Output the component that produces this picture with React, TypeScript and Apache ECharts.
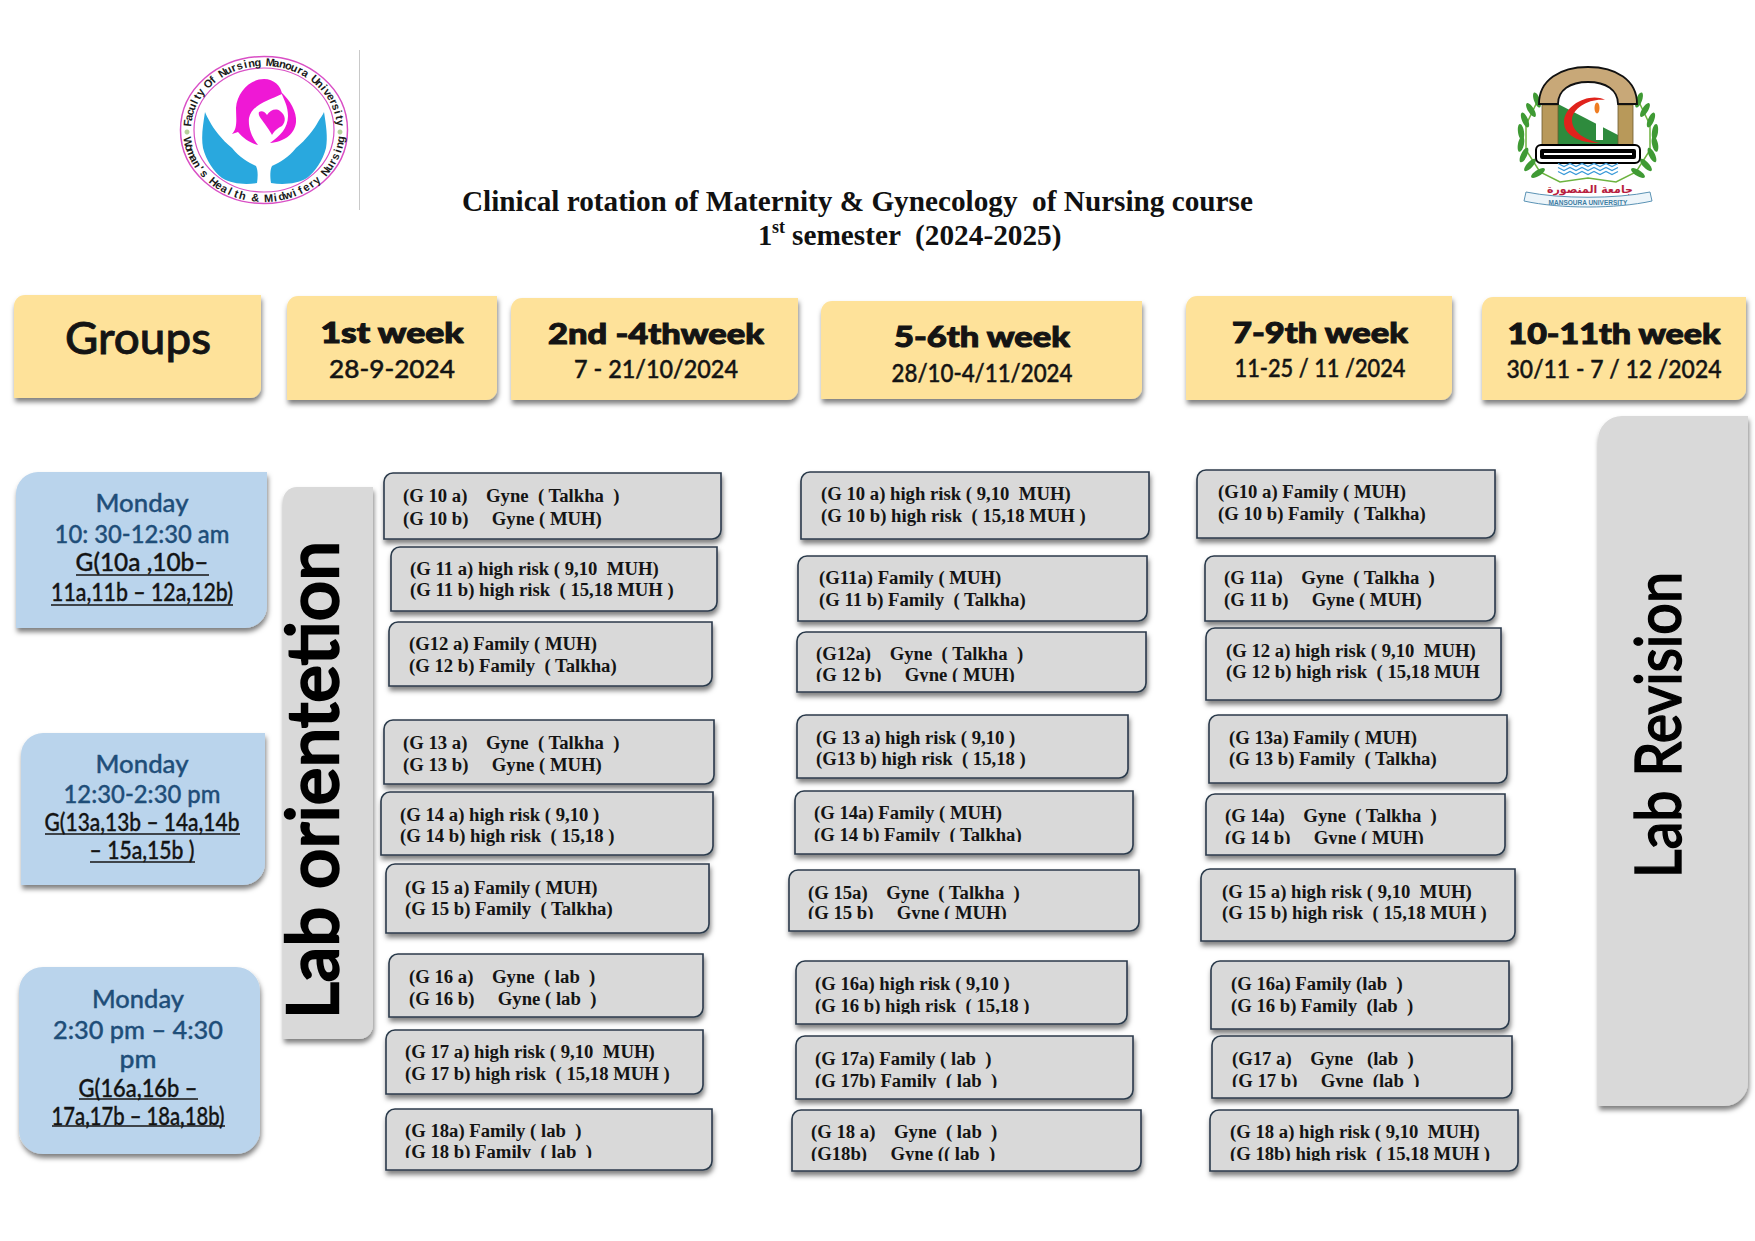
import React, { useEffect, useRef } from "react";
import * as echarts from "echarts";

const titleLine = "Clinical rotation of Maternity & Gynecology  of Nursing course";
const semesterLine = "semester  (2024-2025)";
const groupsHead = "Groups";
const weekTitles = ["1st week", "2nd -4thweek", "5-6th week", "7-9th week", "10-11th week"];
const weekDates = ["28-9-2024", "7 - 21/10/2024", "28/10-4/11/2024", "11-25 / 11 /2024", "30/11 - 7 / 12 /2024"];
const slotA = ["Monday", "10: 30-12:30 am", "G(10a ,10b–", "11a,11b – 12a,12b)"];
const slotB = ["Monday", "12:30-2:30 pm", "G(13a,13b – 14a,14b", "– 15a,15b )"];
const slotC = ["Monday", "2:30 pm – 4:30", "pm", "G(16a,16b –", "17a,17b – 18a,18b)"];
const sideLeft = "Lab orientetion";
const sideRight = "Lab Revision";
const logoTop = "Faculty Of Nursing Manoura University";
const logoBottom = "Woman's Health & Midwifery Nursing";

const col1 = [
  ["(G 10 a)    Gyne  ( Talkha  )", "(G 10 b)     Gyne ( MUH)"],
  ["(G 11 a) high risk ( 9,10  MUH)", "(G 11 b) high risk  ( 15,18 MUH )"],
  ["(G12 a) Family ( MUH)", "(G 12 b) Family  ( Talkha)"],
  ["(G 13 a)    Gyne  ( Talkha  )", "(G 13 b)     Gyne ( MUH)"],
  ["(G 14 a) high risk ( 9,10 )", "(G 14 b) high risk  ( 15,18 )"],
  ["(G 15 a) Family ( MUH)", "(G 15 b) Family  ( Talkha)"],
  ["(G 16 a)    Gyne  ( lab  )", "(G 16 b)     Gyne ( lab  )"],
  ["(G 17 a) high risk ( 9,10  MUH)", "(G 17 b) high risk  ( 15,18 MUH )"],
  ["(G 18a) Family ( lab  )", "(G 18 b) Family  ( lab  )"],
];
const col2 = [
  ["(G 10 a) high risk ( 9,10  MUH)", "(G 10 b) high risk  ( 15,18 MUH )"],
  ["(G11a) Family ( MUH)", "(G 11 b) Family  ( Talkha)"],
  ["(G12a)    Gyne  ( Talkha  )", "(G 12 b)     Gyne ( MUH)"],
  ["(G 13 a) high risk ( 9,10 )", "(G13 b) high risk  ( 15,18 )"],
  ["(G 14a) Family ( MUH)", "(G 14 b) Family  ( Talkha)"],
  ["(G 15a)    Gyne  ( Talkha  )", "(G 15 b)     Gyne ( MUH)"],
  ["(G 16a) high risk ( 9,10 )", "(G 16 b) high risk  ( 15,18 )"],
  ["(G 17a) Family ( lab  )", "(G 17b) Family  ( lab  )"],
  ["(G 18 a)    Gyne  ( lab  )", "(G18b)     Gyne (( lab  )"],
];
const col3 = [
  ["(G10 a) Family ( MUH)", "(G 10 b) Family  ( Talkha)"],
  ["(G 11a)    Gyne  ( Talkha  )", "(G 11 b)     Gyne ( MUH)"],
  ["(G 12 a) high risk ( 9,10  MUH)", "(G 12 b) high risk  ( 15,18 MUH"],
  ["(G 13a) Family ( MUH)", "(G 13 b) Family  ( Talkha)"],
  ["(G 14a)    Gyne  ( Talkha  )", "(G 14 b)     Gyne ( MUH)"],
  ["(G 15 a) high risk ( 9,10  MUH)", "(G 15 b) high risk  ( 15,18 MUH )"],
  ["(G 16a) Family (lab  )", "(G 16 b) Family  (lab  )"],
  ["(G17 a)    Gyne   (lab  )", "(G 17 b)     Gyne  (lab  )"],
  ["(G 18 a) high risk ( 9,10  MUH)", "(G 18b) high risk  ( 15,18 MUH )"],
];

// layout: [x0, y0, x1, y1, textX, line1Y, line2Y, clipY]
const col1Boxes = [
  [384, 473, 721, 539, 403, 495, 518, 0], [391, 547, 717, 611, 410, 568, 589, 0], [389, 622, 712, 686, 409, 643, 665, 0],
  [384, 720, 714, 784, 403, 742, 764, 0], [381, 792, 713, 855, 400, 814, 835, 0], [386, 864, 709, 933, 405, 887, 908, 0],
  [389, 954, 703, 1017, 409, 976, 998, 0], [386, 1030, 703, 1094, 405, 1051, 1073, 0], [386, 1109, 712, 1170, 405, 1130, 1151, 1158],
];
const col2Boxes = [
  [801, 472, 1149, 539, 821, 493, 515, 0], [798, 556, 1147, 621, 819, 577, 599, 0], [797, 632, 1146, 692, 816, 653, 674, 682],
  [797, 715, 1128, 778, 816, 737, 758, 0], [795, 791, 1133, 854, 814, 812, 834, 842], [789, 870, 1139, 931, 808, 892, 912, 919],
  [796, 961, 1127, 1024, 815, 983, 1005, 1014], [796, 1036, 1133, 1099, 815, 1058, 1080, 1088], [792, 1110, 1141, 1171, 811, 1131, 1153, 1161],
];
const col3Boxes = [
  [1197, 470, 1495, 538, 1218, 491, 513, 0], [1205, 556, 1495, 621, 1224, 577, 599, 0], [1206, 628, 1501, 700, 1226, 650, 671, 0],
  [1209, 715, 1507, 783, 1229, 737, 758, 0], [1206, 794, 1505, 855, 1225, 815, 837, 844], [1201, 869, 1515, 941, 1222, 891, 912, 0],
  [1211, 961, 1509, 1029, 1231, 983, 1005, 0], [1212, 1036, 1512, 1098, 1232, 1058, 1080, 1087], [1210, 1110, 1518, 1171, 1230, 1131, 1153, 1161],
];
const headBoxes = [
  [287, 296, 497, 400, 392, 332, 144, 368, 126], [511, 298, 798, 400, 656, 333, 216, 369, 164],
  [821, 301, 1142, 399, 982, 336, 177, 373, 181], [1186, 296, 1452, 400, 1320, 332, 177, 368, 171],
  [1482, 297, 1746, 400, 1614, 333, 214, 369, 215],
];

echarts.graphic.registerShape("hairL", echarts.graphic.extendPath("M264,79 C274,79 281,86 282,94 C270,100 252,104 249,118 C248,128 252,138 258,145 C250,143 243,138 238,132 L232,134 C238,128 236,118 236,108 C237,92 250,79 264,79 Z", {}));
echarts.graphic.registerShape("armR", echarts.graphic.extendPath("M281,92 C290,100 297,112 296,122 C295,134 284,142 270,143 C280,136 288,128 288,116 C288,106 284,100 281,92 Z", {}));
echarts.graphic.registerShape("baby", echarts.graphic.extendPath("M259,112 C262,110 265,112 267,115 C270,110 276,108 280,111 C286,115 286,122 282,126 C278,128 275,130 272,135 C270,131 265,124 262,120 C260,117 258,115 259,112 Z", {}));
echarts.graphic.registerShape("handL", echarts.graphic.extendPath("M205,112 C203,125 201,137 203,148 C206,160 214,172 222,178 C232,184 246,185 257,183 C258,176 258,170 256,166 C248,162 240,158 232,148 C222,140 213,128 210,122 C208,118 206,115 205,112 Z", {}));
echarts.graphic.registerShape("handR", echarts.graphic.extendPath("M324,112 C326,125 328,137 326,148 C323,160 315,172 307,178 C297,184 283,185 271,183 C270,176 270,170 272,166 C280,162 288,158 296,148 C306,140 315,128 318,122 C320,118 323,115 324,112 Z", {}));
echarts.graphic.registerShape("arch", echarts.graphic.extendPath("M1539,104 C1539,80 1560,67 1588,67 C1616,67 1637,80 1637,104 L1618,104 C1618,90 1606,82 1588,82 C1570,82 1558,90 1558,104 Z", {}));
echarts.graphic.registerShape("crescent", echarts.graphic.extendPath("M1605,100 C1590,92 1564,105 1564,122 C1564,136 1580,143 1600,143 C1585,140 1572,132 1572,120 C1572,108 1590,98 1605,100 Z", {}));
echarts.graphic.registerShape("ribbon", echarts.graphic.extendPath("M1526,192 C1560,199 1616,199 1650,192 L1652,201 C1616,209 1560,209 1524,201 Z", {}));

const leaves = [
  [1537, 100, 0.35], [1531, 110, 0.55], [1525, 120, 0.4], [1521, 132, 0.15], [1521, 144, -0.2], [1524, 155, -0.45], [1530, 165, -0.75], [1538, 173, -1.0],
  [1639, 100, -0.35], [1645, 110, -0.55], [1651, 120, -0.4], [1655, 132, -0.15], [1655, 144, 0.2], [1652, 155, 0.45], [1646, 165, 0.75], [1638, 173, 1.0],
];
const waveRows = [165, 169, 173];
const waveOffsets = [0, 6, 12, 18, 24, 30, 36, 42, 48, 54, 60];

const ctx = document.createElement("canvas").getContext("2d")!;
const fit = (t: string, font: string, w: number) => {
  ctx.font = font;
  return w / ctx.measureText(t).width;
};
const txt = (t: string, x: number, y: number, font: string, fill: string, o: any = {}) => {
  const { w, align = "center", rotation = 0, heavy = 0 } = o;
  return {
    type: "text", x, y, rotation,
    scaleX: w ? fit(t, font, w) : 1,
    style: {
      text: t, x: 0, y: 0, font, fill, align, verticalAlign: "middle",
      ...(heavy ? { stroke: fill, lineWidth: heavy } : {}),
    },
  };
};
const SH = { shadowColor: "rgba(0,0,0,0.5)", shadowBlur: 5, shadowOffsetY: 4, shadowOffsetX: 1 };
const box = (x0: number, y0: number, x1: number, y1: number, fill: string, r: number[], stroke?: string) => ({
  type: "rect",
  shape: { x: x0, y: y0, width: x1 - x0, height: y1 - y0, r },
  style: { fill, stroke: stroke || "none", lineWidth: stroke ? 1.6 : 0, ...SH },
});

const greyFont = "bold 18.7px 'Liberation Serif'";
const titleFont = "bold 28.5px 'Liberation Serif'";
const HEAD_BOLD = "900 28px Lato";
const HEAD_DATE = "500 24px Lato";
const SLOT = "500 24px Lato";
const BLUE = "#1f4e79";
const INK = "#141414";

function greyColumn(lines: string[][], boxes: number[][]) {
  const out: any[] = [];
  boxes.forEach((b, i) => {
    out.push(box(b[0], b[1], b[2], b[3], "#d9d9d9", [9, 0, 9, 0], "#2b3a4b"));
    out.push(txt(lines[i][0], b[4], b[5], greyFont, INK, { align: "left" }));
    out.push(txt(lines[i][1], b[4], b[6], greyFont, INK, { align: "left" }));
    if (b[7]) {
      out.push({ type: "rect", shape: { x: b[0] + 2, y: b[7], width: b[2] - b[0] - 14, height: b[3] - b[7] - 2 }, style: { fill: "#d9d9d9" } });
    }
  });
  return out;
}

function slot(lines: string[], cx: number, ys: number[], ws: number[], inkFrom: number) {
  return lines.map((t, i) => txt(t, cx, ys[i], SLOT, i >= inkFrom ? INK : BLUE, { w: ws[i], heavy: 0.35 }));
}
const under = (x0: number, x1: number, y: number) => ({
  type: "line", shape: { x1: x0, y1: y, x2: x1, y2: y }, style: { stroke: "#141414", lineWidth: 1.5 },
});

function arcText(s: string, from: number, to: number, top: boolean) {
  const cx = 264, cy = 130, rx = 77, ry = 68;
  const font = "bold 11px 'Liberation Sans'";
  return s.split("").map((ch, i) => {
    const th = ((from + ((to - from) * i) / (s.length - 1)) * Math.PI) / 180;
    const rot = top ? -(th + Math.PI / 2) : -(th - Math.PI / 2);
    return txt(ch, cx + rx * Math.cos(th), cy + ry * Math.sin(th), font, "#1a1a1a", { rotation: rot });
  });
}

function leftLogo() {
  return [
    { type: "ellipse", shape: { cx: 264, cy: 130, rx: 83.5, ry: 73.5 }, style: { fill: "#fff", stroke: "#d94fc5", lineWidth: 1.5 } },
    { type: "ellipse", shape: { cx: 264, cy: 130, rx: 70, ry: 62 }, style: { fill: "#fff", stroke: "#d94fc5", lineWidth: 1.2 } },
    ...arcText(logoTop, 186, 354, true),
    ...arcText(logoBottom, 170, 8, false),
    { type: "circle", shape: { cx: 187, cy: 132, r: 2.5 }, style: { fill: "#b7cf9a" } },
    { type: "circle", shape: { cx: 340, cy: 132, r: 2.5 }, style: { fill: "#b7cf9a" } },
    { type: "hairL", style: { fill: "#ef18d5" } },
    { type: "armR", style: { fill: "#ef18d5" } },
    { type: "baby", style: { fill: "#ef18d5" } },
    { type: "handL", style: { fill: "#29a8de" } },
    { type: "handR", style: { fill: "#29a8de" } },
    { type: "line", shape: { x1: 359.5, y1: 50, x2: 359.5, y2: 210 }, style: { stroke: "#c9c9c9", lineWidth: 1 } },
  ];
}

function rightLogo() {
  const out: any[] = [];
  out.push({ type: "polyline", shape: { points: [[1538, 100], [1526, 125], [1526, 150], [1540, 172], [1560, 182], [1588, 178], [1616, 182], [1636, 172], [1650, 150], [1650, 125], [1638, 100]] }, style: { stroke: "#6db33f", lineWidth: 1.5, fill: "none" } });
  leaves.forEach(([x, y, r]) => {
    out.push({ type: "ellipse", x, y, rotation: r, shape: { cx: 0, cy: 0, rx: 3, ry: 8 }, style: { fill: "#3f9a34" } });
  });
  out.push({ type: "rect", shape: { x: 1558, y: 84, width: 60, height: 62 }, style: { fill: "#fff" } });
  out.push({ type: "polygon", shape: { points: [[1558, 104], [1618, 135], [1618, 146], [1558, 146]] }, style: { fill: "#2e8b3d" } });
  out.push({ type: "rect", shape: { x: 1542, y: 105, width: 16, height: 41 }, style: { fill: "#b8995a", stroke: "#6d5a2e", lineWidth: 0.8 } });
  out.push({ type: "rect", shape: { x: 1618, y: 105, width: 15, height: 41 }, style: { fill: "#b8995a", stroke: "#6d5a2e", lineWidth: 0.8 } });
  out.push({ type: "arch", style: { fill: "#c8a878", stroke: "#111", lineWidth: 1.8 } });
  out.push({ type: "crescent", style: { fill: "#e0231c" } });
  out.push({ type: "rect", shape: { x: 1596, y: 114, width: 7, height: 26 }, style: { fill: "#fff" } });
  out.push({ type: "ellipse", shape: { cx: 1597, cy: 108, rx: 2.5, ry: 5.5 }, style: { fill: "#ef7d22" } });
  out.push({ type: "rect", shape: { x: 1536, y: 145, width: 104, height: 18, r: 5 }, style: { fill: "#fff", stroke: "#000", lineWidth: 2 } });
  out.push({ type: "rect", shape: { x: 1540, y: 149, width: 96, height: 10, r: 2 }, style: { fill: "#000" } });
  out.push({ type: "rect", shape: { x: 1544, y: 153, width: 88, height: 2 }, style: { fill: "#fff" } });
  waveRows.forEach((y) => {
    const pts: number[][] = [];
    waveOffsets.forEach((o, i) => pts.push([1558 + o, y + (i % 2 ? 1.5 : -1.5)]));
    out.push({ type: "polyline", shape: { points: pts }, style: { stroke: "#3a9ad9", lineWidth: 1.2, fill: "none" } });
  });
  out.push({ type: "ribbon", style: { fill: "#edf5fa", stroke: "#5b93b5", lineWidth: 1 } });
  out.push(txt("جامعة المنصورة", 1590, 189, "bold 11px 'DejaVu Sans'", "#b81f3f"));
  out.push(txt("MANSOURA UNIVERSITY", 1588, 202, "bold 6.5px 'Liberation Sans'", "#3f7ea3"));
  return out;
}

function buildElements() {
  const els: any[] = [];
  els.push(...leftLogo(), ...rightLogo());
  els.push(txt(titleLine, 462, 201, titleFont, "#111", { align: "left", w: 791 }));
  els.push(txt("1", 758, 235, titleFont, "#111", { align: "left" }));
  els.push(txt("st", 772, 227, "bold 18px 'Liberation Serif'", "#111", { align: "left" }));
  els.push(txt(semesterLine, 792, 235, titleFont, "#111", { align: "left", w: 270 }));

  els.push(box(14, 295, 261, 398, "#fee29a", [11, 0, 11, 0]));
  els.push(txt(groupsHead, 138, 337, "500 44px Lato", INK, { w: 146, heavy: 0.8 }));
  headBoxes.forEach((b, i) => {
    els.push(box(b[0], b[1], b[2], b[3], "#fee29a", [11, 0, 11, 0]));
    els.push(txt(weekTitles[i], b[4], b[5], HEAD_BOLD, INK, { w: b[6], heavy: 1 }));
    els.push(txt(weekDates[i], b[4], b[7], HEAD_DATE, INK, { w: b[8], heavy: 0.45 }));
  });

  els.push(box(16, 472, 267, 628, "#bad4ec", [22, 0, 22, 0]));
  els.push(...slot(slotA, 142, [502, 533, 562, 592], [93, 175, 133, 182], 2));
  els.push(under(76, 209, 575), under(51, 233, 605));
  els.push(box(21, 733, 265, 885, "#bad4ec", [22, 0, 22, 0]));
  els.push(...slot(slotB, 142, [763, 793, 822, 850], [93, 157, 195, 105], 2));
  els.push(under(45, 240, 834), under(90, 195, 862));
  els.push(box(19, 967, 260, 1154, "#bad4ec", [24, 24, 24, 24]));
  els.push(...slot(slotC, 138, [999, 1030, 1059, 1088, 1116], [92, 170, 37, 119, 173], 3));
  els.push(under(79, 198, 1099), under(52, 225, 1126));

  els.push(box(283, 487, 373, 1039, "#d9d9d9", [14, 0, 14, 0]));
  els.push(txt(sideLeft, 310, 780, "500 72px Lato", "#000", { w: 478, rotation: Math.PI / 2, heavy: 2.4 }));
  els.push(box(1598, 416, 1748, 1106, "#d9d9d9", [24, 0, 24, 0]));
  els.push(txt(sideRight, 1656, 725, "500 64px Lato", "#000", { w: 306, rotation: Math.PI / 2, heavy: 1.4 }));

  els.push(...greyColumn(col1, col1Boxes), ...greyColumn(col2, col2Boxes), ...greyColumn(col3, col3Boxes));
  return els;
}

export default function App() {
  const ref = useRef<HTMLDivElement>(null);
  useEffect(() => {
    const chart = echarts.init(ref.current!, undefined, { renderer: "svg" });
    chart.setOption({ animation: false, backgroundColor: "#fff", graphic: { elements: buildElements() } });
    return () => chart.dispose();
  }, []);
  return <div ref={ref} style={{ position: "absolute", left: 0, top: 0, width: 1755, height: 1241 }} />;
}
